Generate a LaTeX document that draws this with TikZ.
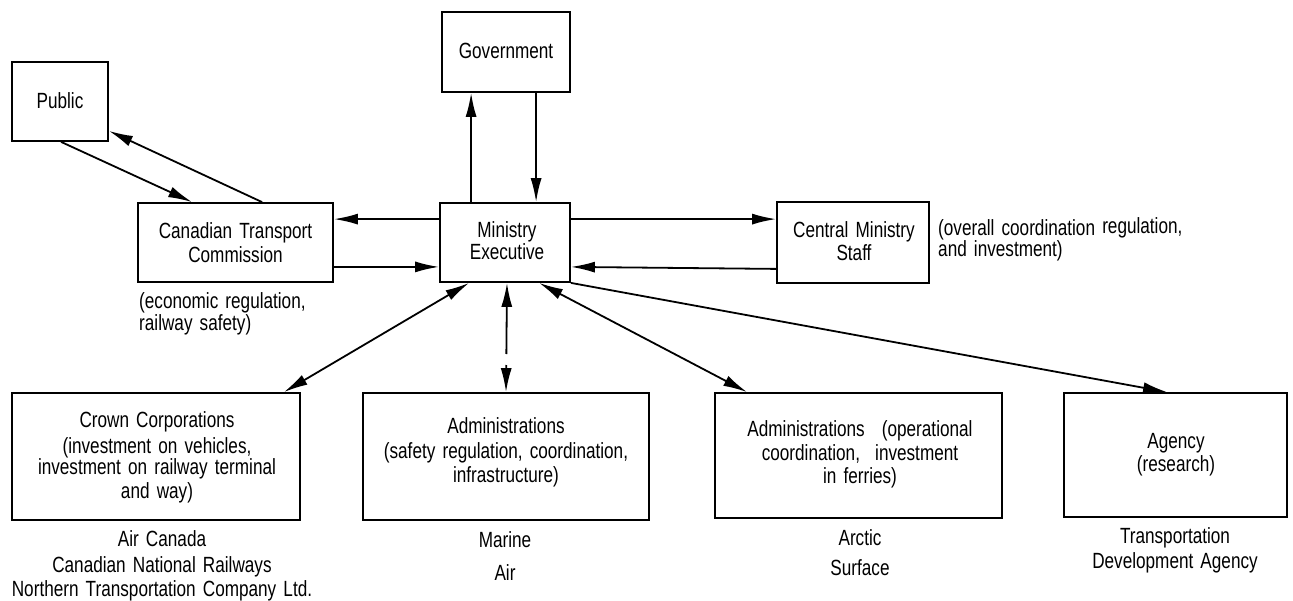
\documentclass[tikz,border=0pt]{standalone}
\usepackage{fontspec}
\setmainfont{Liberation Sans}[FakeStretch=0.78,WordSpace=1.5]
\usetikzlibrary{arrows.meta}
\begin{document}
\begin{tikzpicture}[x=1pt,y=-1pt,
  box/.style={draw, line width=1.8pt, inner sep=0pt},
  txt/.style={inner sep=0pt, align=center, anchor=base, font=\fontsize{22}{24}\selectfont},
  note/.style={txt, align=left, anchor=base west},
  tip/.tip={Latex[length=24pt,width=11pt]},
  arr/.style={line width=1.8pt, -tip},
  darr/.style={line width=1.8pt, tip-tip}]
\useasboundingbox (0,0) rectangle (1293,600);
% boxes
\node[box, minimum width=96pt, minimum height=79pt] (public) at (60,101.5) {};
\node[box, minimum width=128pt, minimum height=80pt] (gov) at (506,52) {};
\node[box, minimum width=195pt, minimum height=79pt] (ctc) at (235.5,242.5) {};
\node[box, minimum width=130pt, minimum height=79pt] (min) at (505,242.5) {};
\node[box, minimum width=152pt, minimum height=81pt] (cms) at (853,242.5) {};
\node[box, minimum width=288pt, minimum height=127pt] (crown) at (156,456.5) {};
\node[box, minimum width=286pt, minimum height=127pt] (adm1) at (506,456.5) {};
\node[box, minimum width=287pt, minimum height=125pt] (adm2) at (858.5,455.5) {};
\node[box, minimum width=223pt, minimum height=124pt] (agency) at (1175.5,455) {};
% texts (anchor base = baseline of the last line)
\node[txt] (tpublic) at (60,108) {Public};
\node[txt] (tgov) at (506,58) {Government};
\node[txt] (tctc) at (235.5,262) {Canadian Transport\\Commission};
\node[txt] (tmin) at (507,259) {Ministry\\[-2pt]Executive};
\node[txt] (tcms) at (854,260) {Central Ministry\\[-1pt]Staff};
\node[note] (ncms) at (938,256) {(overall coordination \raisebox{2pt}{regulation,}\\[-3pt]and investment)};
\node[note] (nctc) at (139,330) {(economic regulation,\\[-2pt]railway safety)};
\node[txt] (tcrown) at (157,498) {Crown Corporations\\[2pt](investment on vehicles,\\[-3pt]investment on railway terminal\\and way)};
\node[txt] (lcrown) at (162,596) {Air Canada\\[2pt]Canadian National Railways\\Northern Transportation Company Ltd.};
\node[txt] (tadm1) at (506,482) {Administrations\\[1pt](safety regulation, coordination,\\infrastructure)};
\node[txt] (ladm1) at (505,580) {Marine\\[9pt]Air};
\node[txt] (tadm2) at (860,483) {Administrations\hspace{10pt} (operational\\coordination,\hspace{8pt} investment\\[-1pt]in ferries)};
\node[txt] (ladm2) at (860,575) {Arctic\\[6pt]Surface};
\node[txt] (tag) at (1176,471) {Agency\\[-1pt](research)};
\node[txt] (lag) at (1175,568) {Transportation\\[1pt]Development Agency};
% connectors
\draw[arr] ([xshift=50pt]public.south west) -- ([xshift=55pt]ctc.north west);
\draw[arr] ([xshift=125pt]ctc.north west) -- ([yshift=11pt]public.south east);
\draw[arr] ([yshift=-17pt]min.north west) -- ([yshift=-17pt]ctc.north east);
\draw[arr] ([yshift=16pt]ctc.south east) -- ([yshift=16pt]min.south west);
\draw[arr] ([xshift=32pt]min.north west) -- ([xshift=30pt]gov.south west);
\draw[arr] ([xshift=95pt]gov.south west) -- ([xshift=97pt]min.north west);
\draw[arr] ([yshift=-17pt]min.north east) -- ([yshift=-18pt]cms.north west);
\draw[arr] ([yshift=15pt]cms.south west) -- ([yshift=16pt]min.south east);
\draw[darr] ([xshift=30pt]min.south west) -- ([xshift=-17pt]crown.north east);
\draw[darr, dash pattern=on 48pt off 11pt on 200pt] ([xshift=2pt]min.south) -- (adm1.north);
\draw[darr] ([xshift=100pt]min.south west) -- ([xshift=33pt]adm2.north west);
\draw[arr] (min.south east) -- ([xshift=104pt]agency.north west);
\end{tikzpicture}
\end{document}
